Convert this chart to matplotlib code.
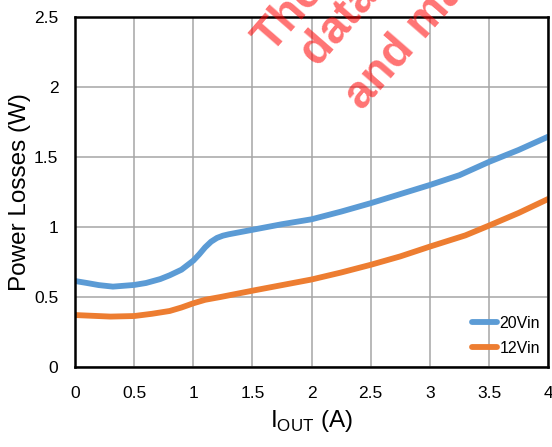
import numpy as np
import matplotlib.pyplot as plt

# power losses vs output current
iout_20 = [0, 0.1, 0.2, 0.32, 0.5, 0.6, 0.72, 0.8, 0.9, 1.0, 1.05, 1.1, 1.15,
           1.2, 1.25, 1.3, 1.5, 1.75, 2.0, 2.25, 2.5, 2.75, 3.0, 3.25, 3.5,
           3.75, 4.0]
loss_20 = [0.614, 0.60, 0.585, 0.574, 0.586, 0.60, 0.628, 0.655, 0.695, 0.76,
           0.805, 0.855, 0.895, 0.922, 0.938, 0.948, 0.98, 1.02, 1.055, 1.11,
           1.17, 1.235, 1.30, 1.37, 1.465, 1.55, 1.645]
iout_12 = [0, 0.3, 0.5, 0.65, 0.8, 0.9, 1.0, 1.1, 1.23, 1.5, 1.75, 2.0, 2.25,
           2.5, 2.75, 3.0, 3.3, 3.5, 3.75, 4.0]
loss_12 = [0.371, 0.36, 0.364, 0.38, 0.40, 0.425, 0.455, 0.48, 0.50, 0.545,
           0.585, 0.625, 0.675, 0.73, 0.79, 0.86, 0.94, 1.01, 1.10, 1.2]
xticks = [0, 0.5, 1, 1.5, 2, 2.5, 3, 3.5, 4]
yticks = [0, 0.5, 1, 1.5, 2, 2.5]
labels = ["20Vin", "12Vin"]

plt.rcParams['font.family'] = ['Liberation Sans', 'DejaVu Sans']

fig = plt.figure(figsize=(5.52, 4.47), dpi=100)
ax = fig.add_axes([0.136, 0.179, 0.857, 0.783])

ax.plot(iout_20, loss_20, color="#5B9BD5", lw=4.2, solid_capstyle="round",
        solid_joinstyle="round", label=labels[0])
ax.plot(iout_12, loss_12, color="#ED7D31", lw=4.2, solid_capstyle="round",
        solid_joinstyle="round", label=labels[1])

ax.set_xlim(0, 4)
ax.set_ylim(0, 2.5)
ax.set_xticks(xticks)
ax.set_yticks(yticks)
ax.set_xticklabels([f"{t:g}" for t in xticks], fontsize=12.5)
ax.set_yticklabels([f"{t:g}" for t in yticks], fontsize=12.5)
ax.tick_params(axis="x", length=0, pad=14)
ax.tick_params(axis="y", length=0, pad=12)
ax.grid(True, color="#a6a6a6", lw=1.1)
ax.set_axisbelow(True)
for s in ax.spines.values():
    s.set_linewidth(1.8)
    s.set_color("black")

ax.set_ylabel("Power Losses (W)", fontsize=17.5, labelpad=2)
ax.set_xlabel(r"I$_{\mathregular{OUT}}$ (A)", fontsize=17.5, labelpad=5)

leg = ax.legend(loc="lower right", frameon=False, handlelength=1.6, handletextpad=0.15,
                borderaxespad=0.1, labelspacing=0.6, bbox_to_anchor=(1.0, 0.01),
                prop={"size": 11.5})

# watermark
wm = dict(rotation=49, rotation_mode="anchor", ha="left", va="baseline",
          color="red", alpha=0.55, fontsize=33, fontweight="bold")
fig.text(272 / 552, 1 - 54 / 447, "These", **wm)
fig.text(318 / 552, 1 - 68 / 447, "data are", **wm)
fig.text(362 / 552, 1 - 111 / 447, "and may", **wm)

fig.savefig("out.png", dpi=100)
